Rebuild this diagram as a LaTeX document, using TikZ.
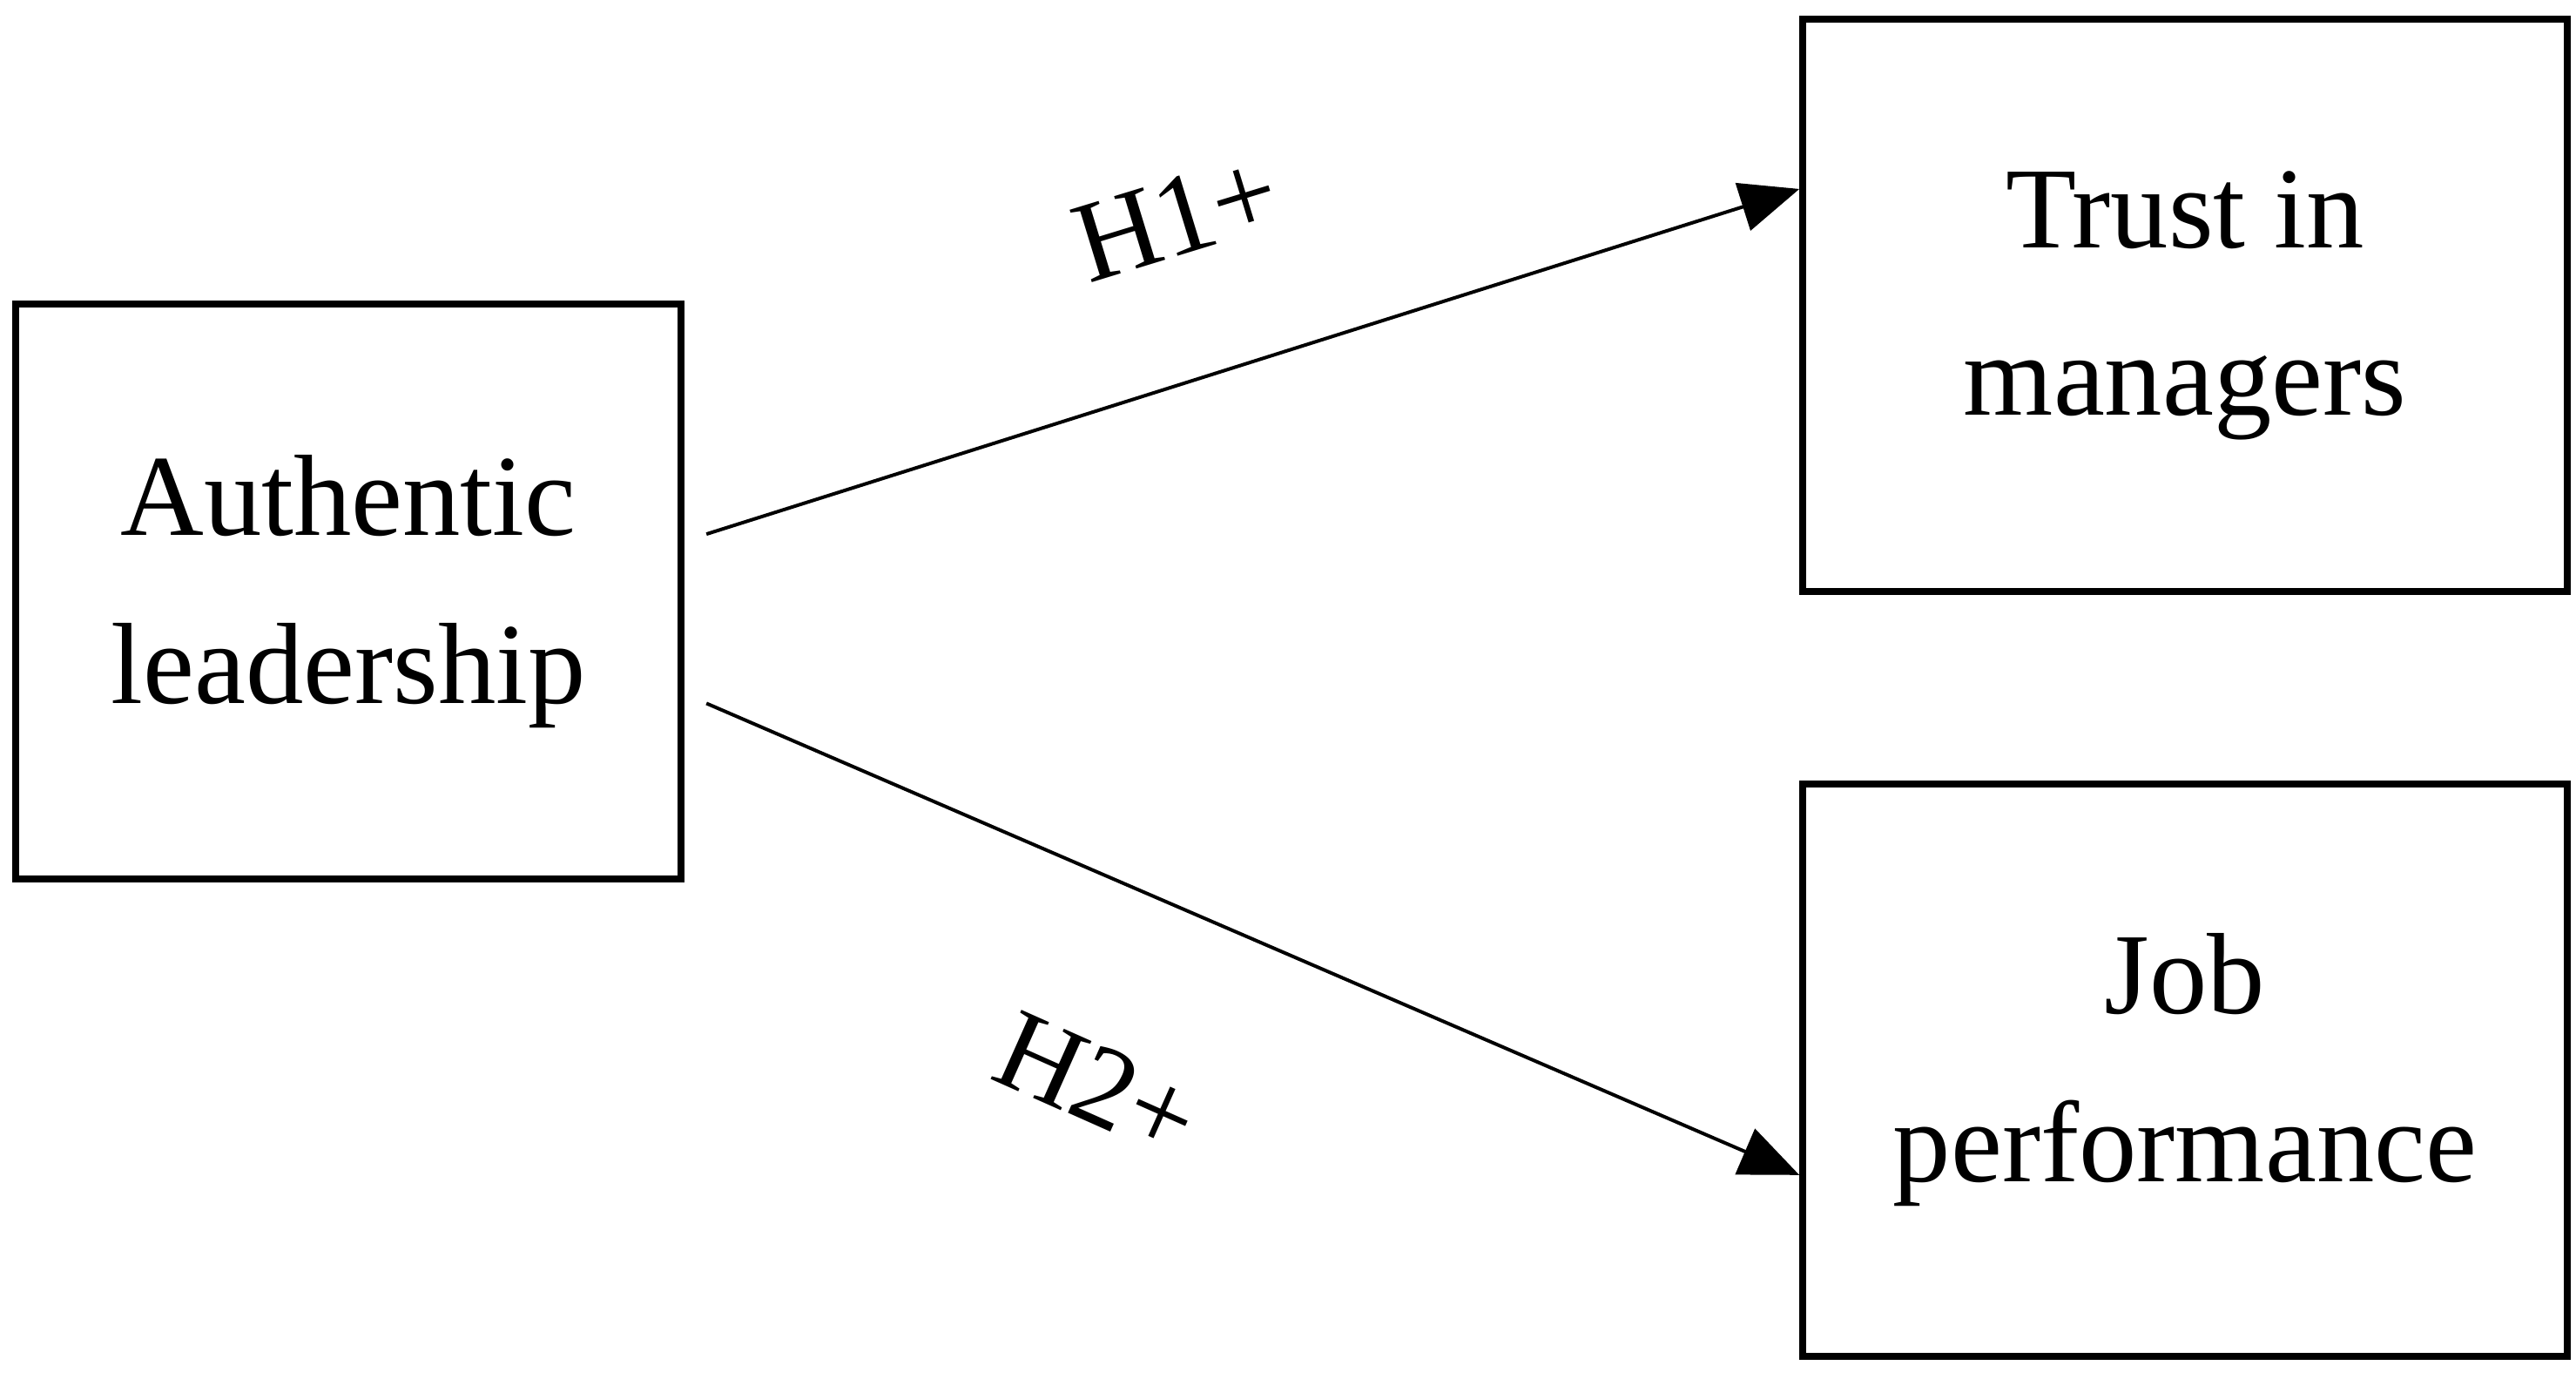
\documentclass[tikz,border=0pt]{standalone}
\usepackage{fontspec}
\setmainfont{Liberation Serif}
\usetikzlibrary{arrows.meta}

\begin{document}
\begin{tikzpicture}[x=0.01cm, y=-0.01cm, text centered]
    \tikzstyle{box} = [rectangle, draw, line width=1.2pt, inner sep=0pt,
        font=\fontsize{20}{29}\selectfont, align=center]
    \tikzstyle{link} = [line width=0.6pt, -{Triangle[length=0.36cm, width=0.3cm]}]
    \tikzstyle{hyp} = [font=\fontsize{20}{24}\selectfont]

    \useasboundingbox (0, 0) rectangle (1568, 839);

    \node (a) at (212, 360) [box, minimum width=4.05cm, minimum height=3.5cm] {Authentic \\ leadership};
    \node (b) at (1330, 186) [box, minimum width=4.65cm, minimum height=3.48cm] {Trust in \\ managers};
    \node (c) at (1330, 651) [box, minimum width=4.65cm, minimum height=3.48cm] {Job \\ performance};

    \coordinate (a1) at (430, 325);
    \coordinate (a2) at (430, 428);

    \draw [link] (a1) -- (b.west |- 0, 115);
    \draw [link] (a2) -- (c.west |- 0, 715);

    \node [hyp, rotate=17] at (716, 132) {H1+};
    \node [hyp, rotate=-24] at (668, 660) {H2+};
\end{tikzpicture}
\end{document}
